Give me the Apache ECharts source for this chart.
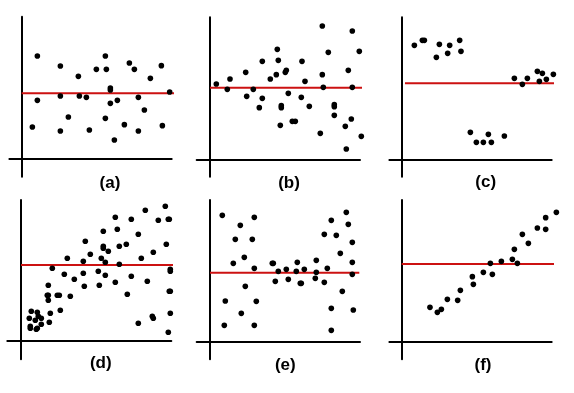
<!DOCTYPE html>
<html><head><meta charset="utf-8">
<script src="https://cdn.jsdelivr.net/npm/echarts@6/dist/echarts.min.js"></script>
<style>html,body{margin:0;padding:0;background:#fff}#c{width:574px;height:393px}</style>
</head><body><div id="c"></div>
<script>
// ---- data (in panel units) ----
const panelLabels = ['(a)', '(b)', '(c)', '(d)', '(e)', '(f)'];
const meanLevels = [65, 72, 76, 76, 69, 77.7];

const pointsA = [[15.7,102.3],[38.7,92.3],[83.7,102.3],[107.7,95.3],[112.7,89],[139.7,92.7],[74.7,89],[84.7,89],[56.7,82],[128.7,80],[88.7,70.3],[88.7,68.3],[148,66.3],[15.7,58],[38.7,62.3],[57.7,62.3],[64.7,61],[95.7,58],[116.7,61],[88.7,55],[122.7,48.3],[46.7,41.3],[83.7,40],[10.7,31.3],[38.7,27.3],[67.7,28.3],[102.7,33.7],[116.7,27.3],[140.7,32.7],[92.7,18.3]];
const pointsB = [[6.3,75.7],[17.3,70.3],[20,80.7],[35.7,87.3],[36.7,63.3],[43.3,70.3],[52.3,98.3],[52.3,61.3],[49.3,52],[60.3,80.7],[66.3,85],[67.3,110.3],[68.3,99.3],[76.3,89.3],[75.3,87.3],[78.3,66.3],[71.3,54],[71.3,52],[70.3,34.3],[82.3,38.3],[85.3,38.3],[92,98.3],[95,78.3],[91.3,62.3],[99.3,53.3],[112.3,133.7],[118.3,107.3],[112.3,85],[113.3,72.3],[110.3,26.3],[124.3,55],[124.3,53],[124.3,44.3],[142.3,128.7],[149.3,108.3],[138.3,89.3],[142.3,72.3],[141.3,40.7],[135.3,33.3],[136.3,10.7],[151.3,23.3]];
const pointsC = [[12.7,114],[20.7,119],[22.7,119],[37.7,115],[48,114],[58,119],[34.7,102],[46,106],[59.3,108],[68.7,27],[74.7,17],[81.7,17],[86.7,25],[89.7,17],[102.7,23.3],[112.7,81],[120.7,75],[125.7,81],[135.7,88],[140.7,86],[137.7,78],[144.7,80],[151.7,85]];
const pointsD = [[10.3,29.7],[16.3,28.7],[8.3,22.7],[14.3,20.7],[17.3,24.7],[20.3,22.7],[9.3,14.7],[9.3,12.7],[15.3,11.7],[16.3,12.7],[20.3,16.7],[28.3,18.7],[29.3,27.7],[39.3,30.7],[27.3,40.7],[27.3,45.7],[26.3,45.7],[27.3,55.7],[36.3,45.7],[38.3,45.7],[49.3,44.7],[31.3,72.7],[43.3,66.7],[46.3,82.7],[53.3,61.7],[62.3,67.7],[62.3,79.7],[63.3,54.7],[64.3,99.7],[69.3,86.7],[77.3,69.7],[78.3,55.7],[80.3,82.7],[84.3,78.7],[84.3,65.7],[82.3,109.7],[82.3,94.7],[82.3,92.7],[87.3,89.7],[94.3,123.7],[96.3,111.7],[98.3,94.7],[98.3,76.7],[94.3,58.7],[105.3,96.7],[106.3,46.7],[110.3,121.7],[110.3,64.7],[117.3,106.7],[120.3,82.7],[117.3,17.7],[124.3,130.7],[126.3,59.7],[132.3,88.7],[131.3,24.7],[132.3,22.7],[137.3,120.7],[144.3,134.7],[147.3,121.7],[148.3,121.7],[145.3,96.7],[149.3,71.7],[149.3,69.7],[148.3,49.7],[149.3,49.7],[149.3,27.7],[147.3,8.7]];
const pointsE = [[12.3,126.3],[30.3,116.3],[44.3,124.3],[25.3,102.3],[42.3,102.3],[34.3,84.3],[23.3,78.3],[44.3,73.3],[35.3,55.3],[15.3,40.7],[46.3,40.3],[31.3,28.3],[14.3,16.3],[44.3,16.3],[62.3,78.3],[63.3,78.3],[68.3,70.3],[65.3,60.3],[76.3,72.3],[78.3,62.3],[87.3,79.3],[86.3,70.3],[94.3,72.3],[90.3,58.3],[91.3,58.3],[106.3,81.3],[106.3,69.3],[105.3,63.3],[114.3,59.3],[117.3,73.3],[114.3,107.3],[121.3,121.3],[126.3,106.3],[130.3,88.3],[136.3,129.3],[138.3,117.3],[142.3,99.3],[142.3,79.3],[142.3,67.3],[132.3,50.3],[121.3,33.3],[143.3,31.7],[121.3,11.3]];
const pointsF = [[28.3,34.3],[35.7,29.3],[39.7,32.3],[45.7,42.3],[56,41.3],[58.7,51.3],[70.7,65],[71.7,57.3],[81.7,69.3],[88.7,78.3],[90.7,67.3],[99.7,80.3],[110.7,82.3],[112.7,92.3],[115.7,78.3],[120.7,107.3],[126.7,98.3],[135.7,113.7],[144,124],[144,112.3],[154.7,129.3]];
const allPoints = [pointsA, pointsB, pointsC, pointsD, pointsE, pointsF];

// ---- layout (pixels) ----
const layout = [
  {ox:21.67, oy:158.33, xmin:-12.3, xmax:150,   ymin:-18.3, ymax:141.7, l0:0,   l1:159.3, lx:110,   ly:183},
  {ox:210,   oy:159.67, xmin:-13.3, xmax:150,   ymin:-17,   ymax:142.3, l0:0,   l1:156.7, lx:289,   ly:183},
  {ox:401.67,oy:159.33, xmin:-12.3, xmax:150,   ymin:-17.3, ymax:142,   l0:3.3, l1:157.3, lx:485.7, ly:182},
  {ox:21,    oy:341,    xmin:-13.7, xmax:150.3, ymin:-18.3, ymax:141,   l0:0,   l1:153.3, lx:100.8, ly:363},
  {ox:210,   oy:341.67, xmin:-13.3, xmax:150,   ymin:-17.7, ymax:141.7, l0:0,   l1:149.3, lx:285.3, ly:365.5},
  {ox:401.67,oy:341.67, xmin:-12.3, xmax:150,   ymin:-17.7, ymax:141.7, l0:0,   l1:157.7, lx:483,   ly:365}
];

const grids = [], xAxes = [], yAxes = [], series = [], texts = [];
const axisLine = {show:true, onZero:true, lineStyle:{color:'#000', width:2}};
layout.forEach((p, i) => {
  grids.push({left: p.ox + p.xmin, top: p.oy - p.ymax, width: p.xmax - p.xmin, height: p.ymax - p.ymin});
  xAxes.push({type:'value', gridIndex:i, min:p.xmin, max:p.xmax, axisLine, axisTick:{show:false}, axisLabel:{show:false}, splitLine:{show:false}});
  yAxes.push({type:'value', gridIndex:i, min:p.ymin, max:p.ymax, axisLine, axisTick:{show:false}, axisLabel:{show:false}, splitLine:{show:false}});
  series.push({type:'line', xAxisIndex:i, yAxisIndex:i, clip:false, symbol:'none', z:2,
    lineStyle:{color:'#cc1111', width:2}, data:[[p.l0, meanLevels[i]], [p.l1, meanLevels[i]]]});
  series.push({type:'scatter', xAxisIndex:i, yAxisIndex:i, clip:false, symbolSize:5.6, z:3,
    itemStyle:{color:'#000', opacity:1}, data: allPoints[i]});
  texts.push({type:'text', x:p.lx, y:p.ly, style:{text:panelLabels[i], fill:'#000',
    font:'bold 17px "Liberation Sans", Arial, sans-serif', textAlign:'center', textVerticalAlign:'middle'}});
});

const chart = echarts.init(document.getElementById('c'), null, {renderer:'canvas'});
chart.setOption({animation:false, backgroundColor:'#fff', grid:grids, xAxis:xAxes, yAxis:yAxes, series, graphic:texts});
</script></body></html>
